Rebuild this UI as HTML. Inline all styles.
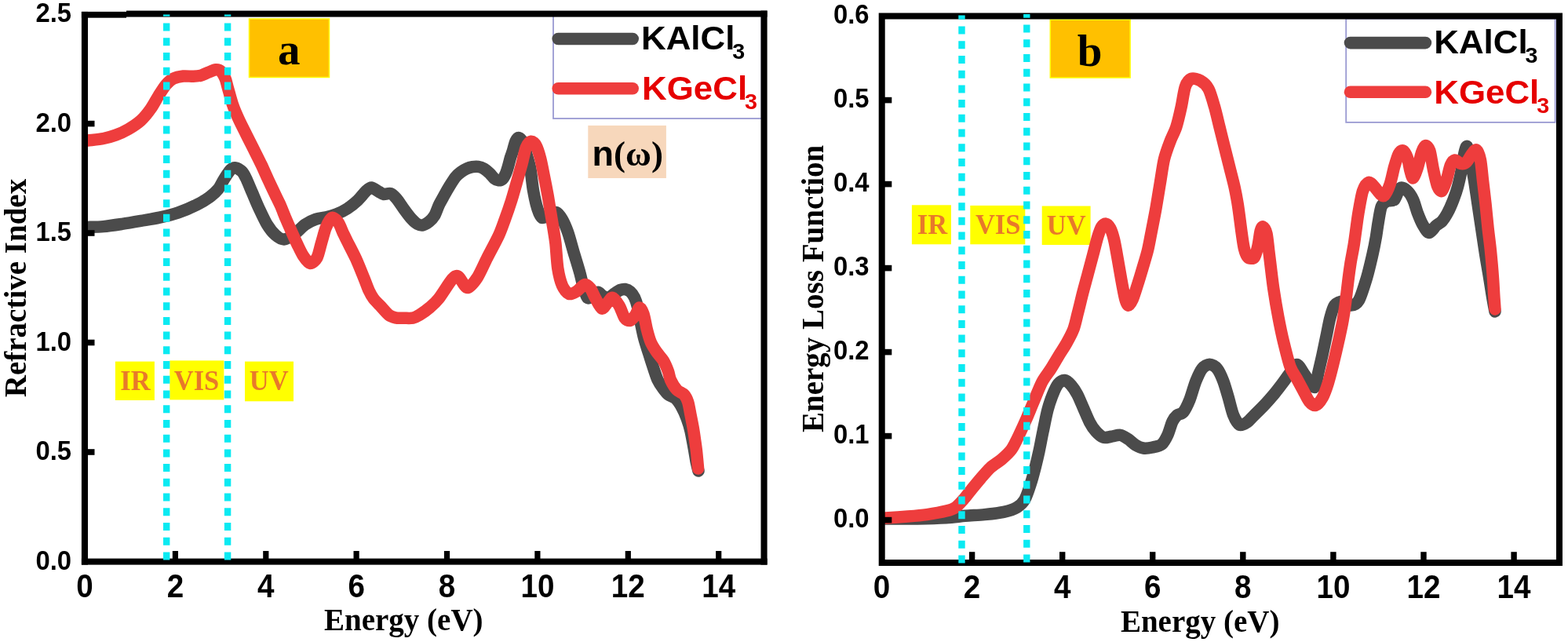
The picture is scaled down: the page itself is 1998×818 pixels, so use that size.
<!DOCTYPE html>
<html><head><meta charset="utf-8"><title>Refractive index and energy loss function</title>
<style>
html,body{margin:0;padding:0;background:#fff;}
body{width:1998px;height:818px;overflow:hidden;}
svg{display:block;}
</style></head>
<body>
<svg width="1998" height="818" viewBox="0 0 1998 818">
<rect width="1998" height="818" fill="#fff"/>
<rect x="146.9" y="460.6" width="50" height="49.4" fill="#ffff00"/>
<rect x="216.3" y="459.4" width="69" height="50" fill="#ffff00"/>
<rect x="312" y="460.6" width="62" height="50.7" fill="#ffff00"/>
<text transform="translate(172.50 497.30) scale(1.0000 1.0500)" font-family="'Liberation Serif', 'Times New Roman', serif" font-weight="bold" font-size="34.5" fill="#e8792a" text-anchor="middle">IR</text>
<text transform="translate(250.50 497.30) scale(1.0000 1.0500)" font-family="'Liberation Serif', 'Times New Roman', serif" font-weight="bold" font-size="34.5" fill="#e8792a" text-anchor="middle">VIS</text>
<text transform="translate(342.70 497.30) scale(1.0000 1.0500)" font-family="'Liberation Serif', 'Times New Roman', serif" font-weight="bold" font-size="34.5" fill="#e8792a" text-anchor="middle">UV</text>
<rect x="317.5" y="24" width="102" height="74.5" fill="#ffc000" stroke="#ffff00" stroke-width="1.5"/>
<text x="368.2" y="82.4" font-family="'Liberation Serif', 'Times New Roman', serif" font-weight="bold" font-size="57" text-anchor="middle" fill="#000">a</text>
<rect x="749.3" y="159.9" width="99.6" height="67.1" fill="#f7d7bb"/>
<text transform="translate(754.50 211.00) scale(1.0000 1.0000)" font-family="'Liberation Sans', Arial, sans-serif" font-weight="bold" font-size="45" fill="#000" text-anchor="start">n<tspan font-family="'Liberation Serif', 'Times New Roman', serif" font-size="45" dx="0">(ω)</tspan></text>
<path d="M112.0 289.4 C114.8 289.3 125.6 289.2 131.8 288.6 C138.0 288.0 148.8 286.4 155.6 285.4 C162.4 284.4 172.7 282.6 179.5 281.4 C186.3 280.2 196.5 278.6 203.3 277.1 C210.1 275.6 220.4 273.1 227.2 270.8 C234.0 268.5 245.4 263.5 251.0 260.7 C256.6 257.9 263.1 254.0 266.9 251.2 C270.7 248.4 275.4 244.3 278.1 240.9 C280.8 237.5 283.7 230.9 286.0 227.4 C288.3 223.9 292.0 218.1 294.0 216.2 C296.0 214.3 298.3 213.5 300.3 213.8 C302.3 214.1 306.4 216.7 308.3 218.6 C310.2 220.5 311.5 223.1 313.4 226.9 C315.3 230.7 319.2 240.4 321.5 245.7 C323.8 251.0 326.9 258.8 329.6 264.5 C332.3 270.2 337.3 281.1 340.3 286.1 C343.3 291.1 348.0 296.8 351.1 299.5 C354.2 302.2 358.5 305.1 361.9 304.9 C365.3 304.7 371.5 300.9 375.3 298.2 C379.1 295.5 385.0 288.8 388.8 286.1 C392.6 283.4 398.4 280.6 402.2 279.3 C406.0 278.0 411.9 277.6 415.7 276.7 C419.5 275.8 425.3 274.1 429.1 272.6 C432.9 271.1 438.7 268.4 442.5 265.9 C446.3 263.4 452.6 258.3 456.0 255.1 C459.4 251.9 464.3 245.3 466.8 243.0 C469.3 240.7 471.2 238.8 473.5 239.0 C475.8 239.2 480.7 243.2 482.9 244.4 C485.1 245.6 486.9 247.2 489.0 247.5 C491.1 247.8 495.4 245.7 497.8 246.5 C500.2 247.3 503.2 250.7 505.6 253.5 C508.0 256.3 511.8 262.4 514.4 266.0 C517.0 269.6 521.7 275.9 524.2 278.7 C526.7 281.5 529.9 284.4 532.0 285.5 C534.1 286.6 536.8 287.2 538.9 286.8 C541.0 286.4 544.6 284.3 546.7 282.6 C548.8 280.9 551.8 277.8 553.6 274.8 C555.4 271.8 557.6 264.8 559.4 261.1 C561.2 257.4 564.4 251.9 566.3 248.4 C568.2 244.9 571.1 239.8 573.1 236.6 C575.1 233.4 578.5 228.0 580.5 225.5 C582.5 223.0 585.3 220.8 587.3 219.3 C589.3 217.8 592.6 215.8 594.7 214.9 C596.8 214.0 599.9 213.1 602.0 212.7 C604.1 212.3 607.2 212.1 609.3 212.4 C611.4 212.7 614.6 213.7 616.7 214.9 C618.8 216.1 622.1 219.0 624.0 220.8 C625.9 222.6 628.3 226.1 629.9 227.4 C631.5 228.7 633.5 229.7 635.0 229.8 C636.5 229.9 638.8 229.5 640.2 228.2 C641.6 226.9 643.6 223.1 644.6 220.8 C645.6 218.5 646.7 214.8 647.5 212.0 C648.3 209.2 649.6 203.8 650.4 201.0 C651.2 198.2 652.5 195.2 653.4 192.2 C654.3 189.2 655.9 182.4 657.0 180.0 C658.1 177.6 659.8 175.2 661.2 175.5 C662.6 175.8 665.3 179.0 666.7 182.0 C668.1 185.0 669.7 192.3 671.0 197.0 C672.3 201.7 674.6 208.6 675.8 215.0 C677.0 221.4 678.2 235.2 679.5 242.5 C680.8 249.8 683.4 261.5 685.0 266.4 C686.6 271.3 688.4 276.4 690.5 277.4 C692.6 278.4 697.1 274.7 699.7 273.7 C702.3 272.7 706.6 269.7 708.9 270.5 C711.2 271.3 714.1 275.6 716.2 279.2 C718.3 282.8 721.3 289.5 723.5 295.7 C725.7 301.9 729.4 315.9 731.6 323.3 C733.8 330.7 737.2 341.6 738.9 347.8 C740.6 354.0 742.4 362.9 743.8 367.4 C745.2 371.9 747.0 378.2 748.7 379.6 C750.4 381.0 754.1 378.1 756.0 377.1 C757.9 376.1 760.4 372.2 762.1 372.2 C763.8 372.2 766.3 376.1 768.2 377.1 C770.1 378.1 773.5 380.0 775.6 379.6 C777.7 379.2 780.8 375.4 782.9 374.0 C785.0 372.6 788.3 370.3 790.2 369.5 C792.1 368.7 794.7 368.2 796.5 368.5 C798.3 368.8 801.3 370.0 803.0 371.5 C804.7 373.0 807.2 376.2 808.5 379.0 C809.8 381.8 811.5 387.0 812.5 391.0 C813.5 395.0 814.3 401.3 815.5 407.0 C816.7 412.7 819.2 425.2 820.8 431.4 C822.4 437.6 825.2 445.5 826.9 451.0 C828.6 456.5 831.4 465.3 833.0 470.0 C834.6 474.7 836.4 480.6 838.0 484.0 C839.6 487.4 842.3 491.4 844.2 494.0 C846.1 496.6 848.9 500.5 851.3 502.5 C853.7 504.5 858.4 505.6 860.9 507.9 C863.4 510.2 866.8 515.4 868.8 519.0 C870.8 522.6 873.6 529.0 875.2 533.3 C876.8 537.6 878.8 544.0 880.0 549.2 C881.2 554.4 882.9 564.2 884.0 570.0 C885.1 575.8 886.6 585.8 887.5 590.0 C888.4 594.2 889.6 598.6 890.0 600.0" fill="none" stroke="#4b4b4b" stroke-width="15.5" stroke-linejoin="round" stroke-linecap="round"/>
<path d="M112.0 179.0 C114.8 178.6 126.7 177.5 131.8 176.5 C136.9 175.5 143.2 173.8 147.7 172.1 C152.2 170.4 159.1 167.2 163.6 164.6 C168.1 162.0 175.4 157.2 179.5 153.5 C183.6 149.8 189.1 142.8 192.2 138.4 C195.3 134.0 199.0 126.8 201.7 122.5 C204.4 118.2 208.6 111.4 211.3 108.2 C214.0 105.0 217.7 101.8 220.8 100.2 C223.9 98.6 229.9 97.4 233.5 97.0 C237.1 96.6 243.1 97.4 246.3 97.3 C249.5 97.2 253.1 96.9 255.8 96.2 C258.5 95.5 262.6 93.3 265.3 92.3 C268.0 91.3 272.6 89.0 274.9 88.8 C277.2 88.6 279.5 89.1 281.2 90.7 C282.9 92.3 285.7 97.1 287.0 100.0 C288.3 102.9 288.8 106.5 290.2 111.3 C291.6 116.1 294.6 127.7 296.6 133.6 C298.6 139.5 302.0 147.2 304.5 152.6 C307.0 158.0 311.3 166.3 314.0 171.7 C316.7 177.1 320.9 185.4 323.6 190.8 C326.3 196.2 330.5 204.4 333.1 209.9 C335.7 215.4 339.4 223.9 342.0 229.5 C344.6 235.1 349.2 244.7 351.4 249.3 C353.6 253.9 355.7 257.9 357.5 262.0 C359.3 266.1 362.1 273.5 364.0 278.0 C365.9 282.5 368.9 289.3 371.0 294.0 C373.1 298.7 376.5 306.5 378.7 311.0 C380.9 315.5 384.1 322.5 386.4 326.0 C388.7 329.5 392.7 335.2 395.2 335.5 C397.7 335.8 402.0 331.9 404.0 328.2 C406.0 324.5 407.9 314.8 409.5 309.5 C411.1 304.2 413.4 295.0 415.0 290.8 C416.6 286.6 419.2 281.9 420.5 280.0 C421.8 278.1 422.9 276.9 424.5 277.5 C426.1 278.1 429.7 281.3 431.5 284.0 C433.3 286.7 435.4 293.0 437.0 296.3 C438.6 299.6 440.2 303.0 442.5 307.6 C444.8 312.2 450.2 322.4 453.3 329.1 C456.4 335.8 461.7 349.2 464.1 355.0 C466.5 360.8 468.3 366.4 470.0 370.0 C471.7 373.6 474.0 377.8 476.0 380.5 C478.0 383.2 481.5 386.4 484.2 389.3 C486.9 392.2 492.4 398.9 495.2 401.1 C498.0 403.3 501.2 404.2 504.0 404.8 C506.8 405.4 511.9 405.3 515.0 405.3 C518.1 405.3 523.2 405.7 526.0 405.1 C528.8 404.5 531.7 403.0 534.8 401.1 C537.9 399.2 544.6 394.4 548.0 391.5 C551.4 388.6 555.0 385.6 559.0 380.5 C563.0 375.4 572.7 359.5 576.3 355.5 C579.9 351.5 581.5 350.7 584.2 352.3 C586.9 353.9 592.0 366.4 595.4 366.6 C598.8 366.8 604.5 359.3 608.1 353.9 C611.7 348.5 616.9 336.1 620.8 328.5 C624.7 320.9 632.3 307.0 635.5 300.0 C638.7 293.0 641.2 285.4 643.5 279.2 C645.8 273.0 649.4 262.7 651.5 256.0 C653.6 249.3 656.6 238.7 658.5 232.0 C660.4 225.3 663.3 215.2 665.0 209.0 C666.7 202.8 668.6 192.1 670.3 188.0 C672.0 183.9 675.0 180.5 676.8 180.2 C678.6 179.9 681.5 182.6 683.2 185.7 C684.9 188.8 687.3 196.7 688.7 202.2 C690.1 207.7 692.0 217.7 693.3 224.2 C694.6 230.7 696.7 241.5 697.9 248.0 C699.1 254.5 700.5 263.8 701.5 270.0 C702.5 276.2 704.3 286.3 705.2 292.0 C706.1 297.7 707.1 302.9 707.9 310.0 C708.7 317.1 709.6 334.4 710.8 342.0 C712.0 349.6 714.5 359.4 716.5 364.0 C718.5 368.6 722.4 373.5 725.0 374.5 C727.6 375.5 732.2 372.7 735.0 371.0 C737.8 369.3 742.5 363.0 745.0 362.5 C747.5 362.0 750.4 365.0 752.3 367.4 C754.2 369.8 756.4 376.0 758.5 379.6 C760.6 383.2 764.6 392.1 766.8 393.0 C769.0 393.9 771.8 388.1 773.7 386.2 C775.6 384.3 778.3 378.9 780.5 379.4 C782.7 379.9 786.9 386.0 789.1 389.6 C791.3 393.2 794.0 402.3 795.9 405.0 C797.8 407.7 800.9 409.0 802.8 408.5 C804.7 408.0 807.9 403.9 809.6 401.6 C811.3 399.3 813.3 392.2 814.8 392.0 C816.3 391.8 818.6 396.0 820.0 400.0 C821.4 404.0 823.2 415.3 824.5 420.4 C825.8 425.5 827.7 432.3 829.4 436.3 C831.1 440.3 834.4 445.2 836.7 448.5 C839.0 451.8 843.2 456.0 845.3 459.5 C847.4 463.0 850.1 469.5 851.4 473.0 C852.7 476.5 852.9 480.7 854.5 484.1 C856.1 487.5 860.0 494.1 862.5 496.8 C865.0 499.5 870.0 500.8 872.0 503.1 C874.0 505.4 875.7 509.1 876.8 512.7 C877.9 516.3 879.1 524.1 880.0 528.6 C880.9 533.1 882.3 540.1 883.1 544.5 C883.9 548.9 884.9 555.8 885.5 560.0 C886.1 564.2 886.8 568.8 887.4 574.0 C888.0 579.2 889.3 593.7 889.6 597.0" fill="none" stroke="#ee3d3d" stroke-width="15.5" stroke-linejoin="round" stroke-linecap="round"/>
<rect x="705" y="18.3" width="265.5" height="132.7" fill="none" stroke="#9a9ad2" stroke-width="1.8"/>
<line x1="711.2" y1="49.5" x2="806.2" y2="49.5" stroke="#4b4b4b" stroke-width="15.6" stroke-linecap="round"/>
<line x1="711.2" y1="112.8" x2="806.2" y2="112.8" stroke="#ee3d3d" stroke-width="15.6" stroke-linecap="round"/>
<text transform="translate(817.00 63.40) scale(1.0450 1.0000)" font-family="'Liberation Sans', Arial, sans-serif" font-weight="bold" font-size="42" fill="#000" text-anchor="start">KAlCl<tspan font-size="27.5" dx="-3" dy="12.0">3</tspan></text>
<text transform="translate(818.00 126.80) scale(1.0450 1.0000)" font-family="'Liberation Sans', Arial, sans-serif" font-weight="bold" font-size="42" fill="#e60000" text-anchor="start">KGeCl<tspan font-size="27.5" dx="-3" dy="12.0">3</tspan></text>
<rect x="103.9" y="14.9" width="57.1" height="7.8" fill="#000"/>
<rect x="161" y="13.6" width="816.6" height="8" fill="#000"/>
<rect x="103.9" y="14.9" width="8.1" height="704.7" fill="#000"/>
<rect x="969.5" y="13.6" width="8.1" height="706" fill="#000"/>
<rect x="103.9" y="711.6" width="873.7" height="8" fill="#000"/>
<rect x="219.8" y="702" width="7.2" height="11" fill="#000"/>
<rect x="335.2" y="702" width="7.2" height="11" fill="#000"/>
<rect x="450.5" y="702" width="7.2" height="11" fill="#000"/>
<rect x="565.9" y="702" width="7.2" height="11" fill="#000"/>
<rect x="681.3" y="702" width="7.2" height="11" fill="#000"/>
<rect x="796.7" y="702" width="7.2" height="11" fill="#000"/>
<rect x="912.1" y="702" width="7.2" height="11" fill="#000"/>
<rect x="111" y="572.2" width="9.5" height="7.6" fill="#000"/>
<rect x="111" y="432.7" width="9.5" height="7.6" fill="#000"/>
<rect x="111" y="293.2" width="9.5" height="7.6" fill="#000"/>
<rect x="111" y="153.8" width="9.5" height="7.6" fill="#000"/>
<text transform="translate(108.00 760.80) scale(0.9900 1.0750)" font-family="'Liberation Sans', Arial, sans-serif" font-weight="bold" font-size="39" fill="#000" text-anchor="middle">0</text>
<text transform="translate(223.38 760.80) scale(0.9900 1.0750)" font-family="'Liberation Sans', Arial, sans-serif" font-weight="bold" font-size="39" fill="#000" text-anchor="middle">2</text>
<text transform="translate(338.76 760.80) scale(0.9900 1.0750)" font-family="'Liberation Sans', Arial, sans-serif" font-weight="bold" font-size="39" fill="#000" text-anchor="middle">4</text>
<text transform="translate(454.14 760.80) scale(0.9900 1.0750)" font-family="'Liberation Sans', Arial, sans-serif" font-weight="bold" font-size="39" fill="#000" text-anchor="middle">6</text>
<text transform="translate(569.52 760.80) scale(0.9900 1.0750)" font-family="'Liberation Sans', Arial, sans-serif" font-weight="bold" font-size="39" fill="#000" text-anchor="middle">8</text>
<text transform="translate(684.90 760.80) scale(0.9900 1.0750)" font-family="'Liberation Sans', Arial, sans-serif" font-weight="bold" font-size="39" fill="#000" text-anchor="middle">10</text>
<text transform="translate(800.28 760.80) scale(0.9900 1.0750)" font-family="'Liberation Sans', Arial, sans-serif" font-weight="bold" font-size="39" fill="#000" text-anchor="middle">12</text>
<text transform="translate(915.66 760.80) scale(0.9900 1.0750)" font-family="'Liberation Sans', Arial, sans-serif" font-weight="bold" font-size="39" fill="#000" text-anchor="middle">14</text>
<text transform="translate(91.10 725.60) scale(0.9650 1.0300)" font-family="'Liberation Sans', Arial, sans-serif" font-weight="bold" font-size="34" fill="#000" text-anchor="end">0.0</text>
<text transform="translate(91.10 586.15) scale(0.9650 1.0300)" font-family="'Liberation Sans', Arial, sans-serif" font-weight="bold" font-size="34" fill="#000" text-anchor="end">0.5</text>
<text transform="translate(91.10 446.70) scale(0.9650 1.0300)" font-family="'Liberation Sans', Arial, sans-serif" font-weight="bold" font-size="34" fill="#000" text-anchor="end">1.0</text>
<text transform="translate(91.10 307.25) scale(0.9650 1.0300)" font-family="'Liberation Sans', Arial, sans-serif" font-weight="bold" font-size="34" fill="#000" text-anchor="end">1.5</text>
<text transform="translate(91.10 167.80) scale(0.9650 1.0300)" font-family="'Liberation Sans', Arial, sans-serif" font-weight="bold" font-size="34" fill="#000" text-anchor="end">2.0</text>
<text transform="translate(91.10 28.35) scale(0.9650 1.0300)" font-family="'Liberation Sans', Arial, sans-serif" font-weight="bold" font-size="34" fill="#000" text-anchor="end">2.5</text>
<text x="514.3" y="803.2" font-family="'Liberation Serif', 'Times New Roman', serif" font-weight="bold" font-size="39" text-anchor="middle" fill="#000">Energy (eV)</text>
<text transform="translate(32.5 367) rotate(-90)" x="0" y="0" font-family="'Liberation Serif', 'Times New Roman', serif" font-weight="bold" font-size="39" text-anchor="middle" fill="#000">Refractive Index</text>
<line x1="212.2" y1="18.5" x2="212.2" y2="714.5" stroke="#0aeaf2" stroke-width="8.4" stroke-dasharray="10.00 8.72" stroke-dashoffset="7.72"/>
<line x1="290.1" y1="18.5" x2="290.1" y2="714.5" stroke="#0aeaf2" stroke-width="8.4" stroke-dasharray="10.00 8.72" stroke-dashoffset="7.72"/>
<rect x="1161.9" y="261.3" width="50" height="50" fill="#ffff00"/>
<rect x="1236.3" y="261.9" width="70" height="49.4" fill="#ffff00"/>
<rect x="1327.7" y="262.5" width="61.9" height="49.5" fill="#ffff00"/>
<text transform="translate(1187.90 297.90) scale(1.0000 1.0500)" font-family="'Liberation Serif', 'Times New Roman', serif" font-weight="bold" font-size="34.5" fill="#e8792a" text-anchor="middle">IR</text>
<text transform="translate(1271.70 298.20) scale(1.0000 1.0500)" font-family="'Liberation Serif', 'Times New Roman', serif" font-weight="bold" font-size="34.5" fill="#e8792a" text-anchor="middle">VIS</text>
<text transform="translate(1358.70 299.00) scale(1.0000 1.0500)" font-family="'Liberation Serif', 'Times New Roman', serif" font-weight="bold" font-size="34.5" fill="#e8792a" text-anchor="middle">UV</text>
<rect x="1338.3" y="25.2" width="101.8" height="73.8" fill="#ffc000" stroke="#ffff00" stroke-width="1.5"/>
<text x="1388.5" y="83.5" font-family="'Liberation Serif', 'Times New Roman', serif" font-weight="bold" font-size="57" text-anchor="middle" fill="#000">b</text>
<path d="M1128.5 661.0 C1134.2 661.0 1158.0 661.1 1168.9 660.9 C1179.8 660.7 1196.9 660.2 1205.6 659.7 C1214.3 659.2 1223.1 657.9 1230.0 657.3 C1236.9 656.7 1247.6 656.3 1254.5 655.6 C1261.4 654.9 1273.0 653.7 1278.9 652.4 C1284.8 651.1 1292.2 648.6 1296.0 646.3 C1299.8 644.0 1303.4 640.7 1305.8 636.5 C1308.2 632.3 1311.3 622.8 1313.2 616.9 C1315.1 611.0 1317.8 600.9 1319.3 595.0 C1320.8 589.1 1322.6 581.4 1324.0 575.0 C1325.4 568.6 1327.4 557.5 1329.0 550.0 C1330.6 542.5 1333.2 528.7 1335.0 522.0 C1336.8 515.3 1339.6 507.3 1341.5 502.6 C1343.4 497.9 1346.3 491.6 1348.4 489.0 C1350.5 486.4 1354.1 484.2 1356.5 484.5 C1358.9 484.8 1362.7 488.2 1365.0 490.8 C1367.3 493.4 1370.6 498.4 1372.8 502.6 C1375.0 506.8 1378.4 515.2 1380.6 520.2 C1382.8 525.2 1386.2 533.6 1388.4 537.8 C1390.6 542.0 1393.8 546.7 1396.3 549.5 C1398.8 552.3 1403.2 556.3 1406.0 557.3 C1408.8 558.3 1412.8 556.7 1415.8 556.3 C1418.8 555.9 1424.5 554.0 1427.5 554.4 C1430.5 554.8 1434.5 557.5 1437.3 559.3 C1440.1 561.1 1444.3 565.4 1447.1 567.1 C1449.9 568.8 1453.9 570.6 1456.9 571.0 C1459.9 571.4 1465.3 570.7 1468.6 570.0 C1471.9 569.3 1477.5 568.5 1480.3 566.1 C1483.1 563.7 1486.3 557.5 1488.2 553.4 C1490.1 549.3 1492.3 540.5 1494.0 537.0 C1495.7 533.5 1498.0 530.7 1500.0 529.0 C1502.0 527.3 1505.6 527.8 1507.9 525.0 C1510.2 522.2 1513.6 515.1 1515.9 509.5 C1518.2 503.9 1521.5 491.2 1523.8 485.6 C1526.1 480.0 1529.3 472.7 1531.8 469.7 C1534.3 466.7 1538.6 464.2 1541.3 464.2 C1544.0 464.2 1548.4 466.7 1550.9 469.7 C1553.4 472.7 1556.8 480.4 1558.8 485.6 C1560.8 490.8 1563.4 500.2 1565.2 506.3 C1567.0 512.4 1569.5 523.6 1571.5 528.6 C1573.5 533.6 1577.0 540.0 1579.5 541.3 C1582.0 542.6 1586.3 539.9 1589.0 538.1 C1591.7 536.3 1595.4 531.7 1598.6 528.6 C1601.8 525.5 1607.7 519.7 1611.3 515.9 C1614.9 512.1 1620.6 505.6 1624.0 501.5 C1627.4 497.4 1632.4 490.8 1635.1 487.2 C1637.8 483.6 1640.6 479.3 1643.1 476.1 C1645.6 472.9 1650.0 464.5 1652.6 464.5 C1655.2 464.5 1659.2 472.8 1661.5 476.0 C1663.8 479.2 1667.0 484.6 1669.0 487.0 C1671.0 489.4 1673.9 494.8 1675.5 493.0 C1677.1 491.2 1678.7 479.8 1680.0 474.0 C1681.3 468.2 1683.6 458.7 1685.0 452.3 C1686.4 445.9 1688.5 435.5 1689.9 428.9 C1691.3 422.3 1693.3 411.1 1694.8 405.4 C1696.3 399.7 1698.3 392.0 1700.6 389.0 C1702.9 386.0 1708.1 384.0 1711.0 384.0 C1713.9 384.0 1718.4 389.2 1721.3 389.0 C1724.2 388.8 1728.5 387.8 1731.4 382.8 C1734.3 377.8 1739.2 361.7 1741.7 353.4 C1744.2 345.1 1747.3 331.3 1749.0 324.0 C1750.7 316.7 1752.4 307.8 1753.4 302.0 C1754.4 296.2 1755.3 288.5 1756.3 283.0 C1757.3 277.5 1758.7 266.8 1760.3 263.0 C1761.9 259.2 1765.4 257.4 1767.7 256.2 C1770.0 255.0 1774.5 256.7 1776.8 254.4 C1779.1 252.1 1781.8 241.3 1784.2 239.7 C1786.6 238.1 1791.1 241.3 1793.4 243.4 C1795.7 245.5 1798.9 250.5 1800.7 254.4 C1802.5 258.3 1804.4 266.2 1806.2 270.9 C1808.0 275.6 1811.4 283.8 1813.5 287.4 C1815.6 291.0 1818.6 296.5 1820.9 296.5 C1823.2 296.5 1827.7 289.5 1830.0 287.4 C1832.3 285.3 1835.3 284.2 1837.4 281.9 C1839.5 279.6 1842.6 274.8 1844.7 270.9 C1846.8 267.0 1850.2 259.1 1852.0 254.4 C1853.8 249.7 1856.1 243.1 1857.5 237.9 C1858.9 232.7 1860.9 223.7 1862.1 217.7 C1863.3 211.7 1864.8 200.1 1865.8 195.7 C1866.8 191.3 1868.3 185.2 1869.5 186.5 C1870.7 187.8 1872.7 198.8 1874.0 205.0 C1875.3 211.2 1877.2 222.2 1878.5 230.0 C1879.8 237.8 1881.7 251.5 1883.0 260.0 C1884.3 268.5 1886.2 281.5 1887.5 290.0 C1888.8 298.5 1890.7 311.5 1892.0 320.0 C1893.3 328.5 1895.7 342.2 1897.0 350.0 C1898.3 357.8 1899.9 368.3 1901.0 375.0 C1902.1 381.7 1904.4 393.9 1905.0 397.0" fill="none" stroke="#4b4b4b" stroke-width="15.5" stroke-linejoin="round" stroke-linecap="round"/>
<path d="M1128.5 660.0 C1132.5 659.7 1149.2 658.6 1156.7 658.0 C1164.2 657.4 1174.2 656.6 1181.1 655.6 C1188.0 654.6 1200.4 652.4 1205.6 651.1 C1210.8 649.8 1214.7 648.4 1217.8 646.3 C1220.9 644.2 1224.8 639.6 1227.6 636.5 C1230.4 633.4 1234.3 628.1 1237.4 624.3 C1240.5 620.5 1246.1 613.6 1249.6 609.6 C1253.1 605.6 1258.0 599.6 1261.8 596.1 C1265.6 592.6 1272.7 588.4 1276.5 585.1 C1280.3 581.8 1285.9 576.7 1288.7 572.9 C1291.5 569.1 1293.8 563.9 1296.5 558.5 C1299.2 553.1 1304.6 541.2 1307.5 534.7 C1310.4 528.2 1313.8 519.5 1316.7 512.7 C1319.6 505.9 1324.6 493.0 1327.7 487.0 C1330.8 481.0 1335.6 475.4 1338.7 470.5 C1341.8 465.6 1346.8 456.9 1349.7 452.2 C1352.6 447.5 1356.3 442.2 1358.9 437.5 C1361.5 432.8 1365.9 424.7 1368.0 419.2 C1370.1 413.7 1371.7 405.3 1373.4 398.8 C1375.1 392.3 1377.9 380.3 1379.7 373.3 C1381.5 366.3 1384.3 356.3 1386.1 349.5 C1387.9 342.7 1390.7 332.4 1392.5 325.6 C1394.3 318.8 1397.2 307.0 1398.8 301.8 C1400.4 296.6 1402.1 291.5 1403.6 289.1 C1405.1 286.7 1407.6 284.9 1409.2 285.1 C1410.8 285.3 1413.2 287.9 1414.7 290.7 C1416.2 293.5 1418.1 299.4 1419.5 305.0 C1420.9 310.6 1423.0 323.0 1424.3 330.4 C1425.6 337.8 1427.7 350.2 1429.0 357.4 C1430.3 364.6 1432.6 376.8 1433.8 381.3 C1435.0 385.8 1436.5 389.2 1437.8 389.2 C1439.1 389.2 1441.6 385.1 1443.3 381.3 C1445.0 377.5 1447.9 367.8 1449.7 362.2 C1451.5 356.6 1454.2 347.6 1456.0 341.5 C1457.8 335.4 1460.9 325.5 1462.4 319.3 C1463.9 313.1 1465.2 305.7 1466.7 298.0 C1468.2 290.3 1471.5 273.7 1473.1 264.6 C1474.7 255.5 1476.7 242.5 1478.2 233.8 C1479.7 225.1 1481.6 210.6 1483.4 203.0 C1485.2 195.4 1488.9 185.7 1491.1 179.9 C1493.3 174.1 1496.8 168.1 1498.8 161.9 C1500.8 155.7 1503.6 143.5 1505.2 136.2 C1506.8 128.9 1508.5 115.6 1510.3 110.5 C1512.1 105.4 1515.3 101.4 1518.0 100.3 C1520.7 99.2 1526.5 101.0 1529.6 102.8 C1532.7 104.6 1537.4 108.4 1539.9 113.1 C1542.5 117.8 1545.6 129.3 1547.6 136.2 C1549.6 143.1 1552.2 154.6 1554.0 161.9 C1555.8 169.2 1558.6 180.3 1560.4 187.6 C1562.2 194.9 1565.0 205.9 1566.8 213.2 C1568.6 220.5 1571.7 232.0 1573.2 238.9 C1574.7 245.8 1576.2 253.7 1577.5 262.0 C1578.8 270.3 1581.2 289.9 1582.3 297.7 C1583.4 305.5 1584.3 312.5 1585.4 316.8 C1586.5 321.1 1588.4 326.4 1590.2 328.0 C1592.0 329.6 1596.4 330.0 1598.2 328.0 C1600.0 326.0 1601.8 318.3 1602.9 313.6 C1604.0 308.9 1605.2 298.0 1606.1 294.5 C1607.0 291.0 1608.2 288.5 1609.3 289.0 C1610.4 289.5 1612.9 293.1 1614.0 297.7 C1615.1 302.3 1616.2 315.2 1617.0 321.5 C1617.8 327.8 1618.7 335.4 1619.5 342.0 C1620.3 348.6 1621.5 359.3 1622.8 368.0 C1624.1 376.7 1627.0 394.1 1628.8 403.6 C1630.6 413.1 1633.3 426.4 1635.5 435.4 C1637.7 444.4 1641.6 460.6 1644.0 467.2 C1646.4 473.8 1649.9 477.8 1652.2 482.0 C1654.5 486.2 1658.0 492.8 1660.3 497.0 C1662.6 501.2 1666.0 508.7 1668.3 511.5 C1670.6 514.3 1674.1 517.1 1676.5 516.5 C1678.9 515.9 1682.8 510.9 1685.0 507.0 C1687.2 503.1 1690.2 494.8 1692.1 488.8 C1694.0 482.9 1696.6 472.7 1698.5 465.0 C1700.4 457.3 1704.1 441.5 1705.7 434.2 C1707.3 426.9 1709.1 418.5 1710.1 413.7 C1711.1 408.9 1711.8 404.2 1712.5 400.0 C1713.2 395.8 1713.9 390.7 1714.7 384.3 C1715.5 377.9 1717.3 362.0 1718.2 355.0 C1719.1 348.0 1720.0 341.4 1721.0 335.0 C1722.0 328.6 1724.1 319.1 1725.5 310.0 C1726.9 300.9 1729.4 280.3 1731.0 270.9 C1732.6 261.5 1734.7 248.9 1736.5 243.4 C1738.3 237.9 1741.7 233.2 1743.8 232.4 C1745.9 231.6 1749.1 235.8 1751.2 237.9 C1753.3 240.0 1756.7 245.4 1758.5 247.0 C1760.3 248.6 1762.2 250.7 1764.0 248.9 C1765.8 247.1 1769.5 239.4 1771.3 234.2 C1773.1 229.0 1775.2 217.7 1776.8 212.2 C1778.4 206.7 1780.8 198.6 1782.4 195.7 C1784.0 192.8 1786.3 191.2 1787.9 192.0 C1789.5 192.8 1792.1 197.6 1793.4 201.2 C1794.7 204.8 1796.0 214.1 1797.0 217.7 C1798.0 221.3 1799.4 227.3 1800.7 226.8 C1802.0 226.3 1804.6 218.7 1806.2 214.0 C1807.8 209.3 1810.3 197.8 1811.7 193.8 C1813.1 189.8 1814.9 185.9 1816.3 185.6 C1817.7 185.3 1820.4 187.7 1821.8 192.0 C1823.2 196.3 1825.0 209.3 1826.4 215.8 C1827.8 222.3 1830.3 234.0 1831.9 237.9 C1833.5 241.8 1835.8 244.4 1837.4 243.4 C1839.0 242.4 1841.3 235.2 1842.9 230.5 C1844.5 225.8 1846.8 214.1 1848.4 210.3 C1850.0 206.5 1852.1 204.2 1853.9 203.9 C1855.7 203.6 1859.1 208.1 1861.2 208.5 C1863.3 208.9 1866.4 208.5 1868.5 206.7 C1870.6 204.9 1874.1 197.9 1875.9 195.7 C1877.7 193.5 1879.9 189.9 1881.4 191.1 C1882.9 192.3 1885.4 198.5 1886.5 204.0 C1887.6 209.5 1888.6 222.1 1889.5 230.0 C1890.4 237.9 1892.1 251.5 1893.0 260.0 C1893.9 268.5 1895.1 281.5 1896.0 290.0 C1896.9 298.5 1898.6 310.8 1899.5 320.0 C1900.4 329.2 1901.9 346.5 1902.5 355.0 C1903.1 363.5 1903.6 374.5 1904.0 380.0 C1904.4 385.5 1904.9 392.0 1905.0 394.0" fill="none" stroke="#ee3d3d" stroke-width="15.5" stroke-linejoin="round" stroke-linecap="round"/>
<rect x="1715.2" y="23.7" width="266.5" height="132.2" fill="none" stroke="#9a9ad2" stroke-width="1.8"/>
<line x1="1720.5" y1="54.6" x2="1816.4" y2="54.6" stroke="#4b4b4b" stroke-width="15.6" stroke-linecap="round"/>
<line x1="1720.5" y1="117.2" x2="1816.4" y2="117.2" stroke="#ee3d3d" stroke-width="15.6" stroke-linecap="round"/>
<text transform="translate(1827.20 67.70) scale(1.0450 1.0000)" font-family="'Liberation Sans', Arial, sans-serif" font-weight="bold" font-size="42" fill="#000" text-anchor="start">KAlCl<tspan font-size="27.5" dx="-3" dy="12.0">3</tspan></text>
<text transform="translate(1827.20 132.20) scale(1.0450 1.0000)" font-family="'Liberation Sans', Arial, sans-serif" font-weight="bold" font-size="42" fill="#e60000" text-anchor="start">KGeCl<tspan font-size="27.5" dx="-3" dy="12.0">3</tspan></text>
<rect x="1123.7" y="20.5" width="863.3" height="696.5" fill="none" stroke="#000" stroke-width="8"/>
<rect x="1234.9" y="703.2" width="7.4" height="11" fill="#000"/>
<rect x="1350.0" y="703.2" width="7.4" height="11" fill="#000"/>
<rect x="1465.0" y="703.2" width="7.4" height="11" fill="#000"/>
<rect x="1580.1" y="703.2" width="7.4" height="11" fill="#000"/>
<rect x="1695.2" y="703.2" width="7.4" height="11" fill="#000"/>
<rect x="1810.3" y="703.2" width="7.4" height="11" fill="#000"/>
<rect x="1925.4" y="703.2" width="7.4" height="11" fill="#000"/>
<rect x="1126" y="658.8" width="10.3" height="7.6" fill="#000"/>
<rect x="1126" y="551.8" width="10.3" height="7.6" fill="#000"/>
<rect x="1126" y="444.8" width="10.3" height="7.6" fill="#000"/>
<rect x="1126" y="337.8" width="10.3" height="7.6" fill="#000"/>
<rect x="1126" y="230.8" width="10.3" height="7.6" fill="#000"/>
<rect x="1126" y="123.8" width="10.3" height="7.6" fill="#000"/>
<text transform="translate(1123.50 762.00) scale(0.9900 1.0750)" font-family="'Liberation Sans', Arial, sans-serif" font-weight="bold" font-size="39" fill="#000" text-anchor="middle">0</text>
<text transform="translate(1238.58 762.00) scale(0.9900 1.0750)" font-family="'Liberation Sans', Arial, sans-serif" font-weight="bold" font-size="39" fill="#000" text-anchor="middle">2</text>
<text transform="translate(1353.66 762.00) scale(0.9900 1.0750)" font-family="'Liberation Sans', Arial, sans-serif" font-weight="bold" font-size="39" fill="#000" text-anchor="middle">4</text>
<text transform="translate(1468.74 762.00) scale(0.9900 1.0750)" font-family="'Liberation Sans', Arial, sans-serif" font-weight="bold" font-size="39" fill="#000" text-anchor="middle">6</text>
<text transform="translate(1583.82 762.00) scale(0.9900 1.0750)" font-family="'Liberation Sans', Arial, sans-serif" font-weight="bold" font-size="39" fill="#000" text-anchor="middle">8</text>
<text transform="translate(1698.90 762.00) scale(0.9900 1.0750)" font-family="'Liberation Sans', Arial, sans-serif" font-weight="bold" font-size="39" fill="#000" text-anchor="middle">10</text>
<text transform="translate(1813.98 762.00) scale(0.9900 1.0750)" font-family="'Liberation Sans', Arial, sans-serif" font-weight="bold" font-size="39" fill="#000" text-anchor="middle">12</text>
<text transform="translate(1929.06 762.00) scale(0.9900 1.0750)" font-family="'Liberation Sans', Arial, sans-serif" font-weight="bold" font-size="39" fill="#000" text-anchor="middle">14</text>
<text transform="translate(1107.60 672.20) scale(0.9650 1.0300)" font-family="'Liberation Sans', Arial, sans-serif" font-weight="bold" font-size="34" fill="#000" text-anchor="end">0.0</text>
<text transform="translate(1107.60 565.20) scale(0.9650 1.0300)" font-family="'Liberation Sans', Arial, sans-serif" font-weight="bold" font-size="34" fill="#000" text-anchor="end">0.1</text>
<text transform="translate(1107.60 458.20) scale(0.9650 1.0300)" font-family="'Liberation Sans', Arial, sans-serif" font-weight="bold" font-size="34" fill="#000" text-anchor="end">0.2</text>
<text transform="translate(1107.60 351.20) scale(0.9650 1.0300)" font-family="'Liberation Sans', Arial, sans-serif" font-weight="bold" font-size="34" fill="#000" text-anchor="end">0.3</text>
<text transform="translate(1107.60 244.20) scale(0.9650 1.0300)" font-family="'Liberation Sans', Arial, sans-serif" font-weight="bold" font-size="34" fill="#000" text-anchor="end">0.4</text>
<text transform="translate(1107.60 137.20) scale(0.9650 1.0300)" font-family="'Liberation Sans', Arial, sans-serif" font-weight="bold" font-size="34" fill="#000" text-anchor="end">0.5</text>
<text transform="translate(1107.60 30.20) scale(0.9650 1.0300)" font-family="'Liberation Sans', Arial, sans-serif" font-weight="bold" font-size="34" fill="#000" text-anchor="end">0.6</text>
<line x1="1225.5" y1="19.5" x2="1225.5" y2="718.0" stroke="#0aeaf2" stroke-width="8.4" stroke-dasharray="10.00 8.72" stroke-dashoffset="4.72"/>
<line x1="1308.3" y1="18.0" x2="1308.3" y2="718.0" stroke="#0aeaf2" stroke-width="8.4" stroke-dasharray="10.00 8.75" stroke-dashoffset="5.15"/>
<text x="1529.2" y="804.9" font-family="'Liberation Serif', 'Times New Roman', serif" font-weight="bold" font-size="39" text-anchor="middle" fill="#000">Energy (eV)</text>
<text transform="translate(1048.6 367.9) rotate(-90)" x="0" y="0" font-family="'Liberation Serif', 'Times New Roman', serif" font-weight="bold" font-size="39" text-anchor="middle" fill="#000">Energy Loss Function</text>
</svg>
</body></html>
